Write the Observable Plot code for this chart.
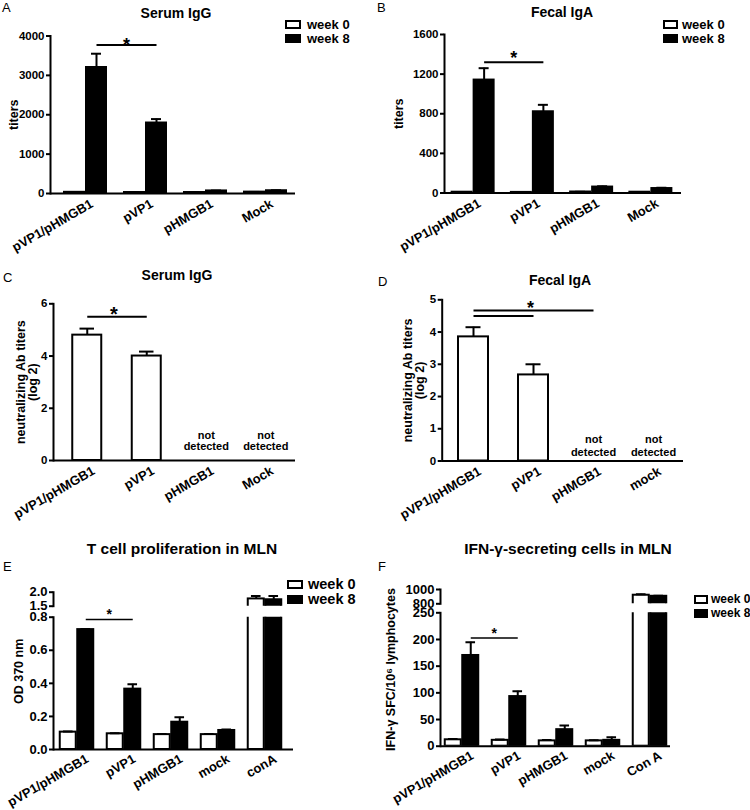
<!DOCTYPE html>
<html><head><meta charset="utf-8">
<script src="https://cdn.jsdelivr.net/npm/d3@7"></script>
<script src="https://cdn.jsdelivr.net/npm/@observablehq/plot@0.6"></script>
<style>
body{margin:0;background:#fff;}
#root{position:relative;width:750px;height:810px;overflow:hidden;background:#fff;font-family:'Liberation Sans',Arial,Helvetica,sans-serif;color:#000;}
.t{position:absolute;white-space:nowrap;line-height:1;}
.sw{position:absolute;box-sizing:border-box;border:2px solid #000;}
svg{position:absolute;}
</style></head><body><div id="root"></div>
<script>
// ---------- data ----------
const groupsAB = ["pVP1/pHMGB1", "pVP1", "pHMGB1", "Mock"];
const serumIgGWeek0 = [30, 25, 25, 35];
const serumIgGWeek0Err = [4, 4, 4, 4];
const serumIgGWeek8 = [3200, 1790, 65, 70];
const serumIgGWeek8Err = [350, 100, 10, 12];
const fecalIgAWeek0 = [8, 6, 10, 8];
const fecalIgAWeek0Err = [2, 2, 2, 2];
const fecalIgAWeek8 = [1140, 820, 60, 45];
const fecalIgAWeek8Err = [120, 70, 8, 8];

const groupsC = ["pVP1/pHMGB1", "pVP1", "pHMGB1", "Mock"];
const groupsD = ["pVP1/pHMGB1", "pVP1", "pHMGB1", "mock"];
const serumNeut = [4.8, 4.0, null, null];
const serumNeutErr = [0.25, 0.17, null, null];
const fecalNeut = [3.85, 2.67, null, null];
const fecalNeutErr = [0.3, 0.33, null, null];

const groupsE = ["pVP1/pHMGB1", "pVP1", "pHMGB1", "mock", "conA"];
const tcellWeek0 = [0.105, 0.095, 0.09, 0.09, 1.76];
const tcellWeek0Err = [0.004, 0.004, 0.003, 0.004, 0.1];
const tcellWeek8 = [0.725, 0.365, 0.165, 0.115, 1.73];
const tcellWeek8Err = [0.004, 0.03, 0.03, 0.006, 0.13];

const groupsF = ["pVP1/pHMGB1", "pVP1", "pHMGB1", "mock", "Con A"];
const ifnWeek0 = [12, 11, 10, 10, 920];
const ifnWeek0Err = [1.5, 1.5, 1.5, 1, 15];
const ifnWeek8 = [170, 93, 31, 11, 905];
const ifnWeek8Err = [25, 10, 8, 6, 8];

const ticksA = [0, 1000, 2000, 3000, 4000];
const ticksB = [0, 400, 800, 1200, 1600];
const ticksC = [0, 2, 4, 6];
const ticksD = [0, 1, 2, 3, 4, 5];
const ticksEUpper = [1.5, 2.0];
const ticksELower = [0, 0.2, 0.4, 0.6, 0.8];
const ticksFUpper = [800, 1000];
const ticksFLower = [0, 50, 100, 150, 200, 250];
const legendLabels = ["week 0", "week 8"];

// ---------- helpers ----------
const FONT = "'Liberation Sans', Arial, Helvetica, sans-serif";
const root = document.getElementById("root");
function ser(groups, vals, errs, fill) {
  return {fill, rows: groups.map((g, i) => ({g, v: vals[i], e: errs[i]})).filter(d => d.v != null)};
}
function build(c) {
  const n = c.groups.length;
  const bw = (c.xr[1] - c.xr[0]) / n;
  const gap = c.gap ?? 2;
  const clip = c.clip ? true : undefined;
  const marks = [];
  const offs = [];
  const single = c.series.length === 1;
  c.series.forEach((s, k) => {
    const off = single ? 0 : (k === 0 ? -1 : 1) * (gap / 2 + c.barW / 2);
    offs.push(off);
    const iL = bw / 2 + off - c.barW / 2, iR = bw / 2 - off - c.barW / 2;
    const capW = c.barW * (c.capRatio ?? 0.5);
    const errRows = s.rows.filter(d => d.e > 0);
    marks.push(Plot.barY(s.rows, {x: "g", y1: 0, y2: "v", fill: s.fill, stroke: "black", strokeWidth: 2, insetLeft: iL, insetRight: iR, clip}));
    marks.push(Plot.ruleX(errRows, {x: "g", y1: "v", y2: d => d.v + d.e, dx: off, strokeWidth: 2, clip}));
    marks.push(Plot.tickY(errRows, {x: "g", y: d => d.v + d.e, insetLeft: bw / 2 + off - capW / 2, insetRight: bw / 2 - off - capW / 2, strokeWidth: 2, clip}));
  });
  const sigOff = offs[offs.length - 1];
  (c.sigs || []).forEach(s => {
    marks.push(Plot.line([{g: c.groups[s.from], v: s.v}, {g: c.groups[s.to], v: s.v}], {x: "g", y: "v", dx: sigOff, strokeWidth: c.sigW ?? 2, strokeLinecap: "butt"}));
  });
  if (c.star) {
    const s = c.star;
    marks.push(Plot.text([s], {x: d => c.groups[d.from], y: "v", text: () => "*", dx: (s.to - s.from) * bw / 2 + sigOff + (s.dx || 0), dy: s.dy || 0, fontSize: s.size, fontWeight: "bold", lineAnchor: "middle", textAnchor: "middle"}));
  }
  if (c.notDetected) {
    marks.push(Plot.text(c.notDetected, {x: d => d, y: 0, text: () => "not\ndetected", lineAnchor: "bottom", textAnchor: "middle", lineHeight: c.ndLH, dy: c.ndDy, fontSize: 11, fontWeight: "bold"}));
  }
  if (c.baseline !== false) marks.push(Plot.ruleY([c.yDomain[0]], {strokeWidth: 2}));
  marks.push(Plot.frame({anchor: "left", strokeWidth: 2}));
  marks.push(Plot.axisY({ticks: c.yTicks, tickFormat: c.fmt || (d => String(d)), tickSize: 4, tickPadding: 2, strokeWidth: 2, fontSize: c.tickFs, fontWeight: "bold", label: null}));
  if (c.cats !== false) {
    marks.push(Plot.text(c.groups, {x: d => d, frameAnchor: "bottom", text: d => d, rotate: -30, textAnchor: "end", lineAnchor: "top", dx: c.catDx, dy: c.catDy, fontSize: c.catFs, fontWeight: "bold"}));
  }
  if (c.yLabel) {
    marks.push(Plot.text([c.yLabel], {frameAnchor: "left", text: d => d, rotate: -90, textAnchor: "middle", lineAnchor: "middle", dx: c.yLabelDx, dy: c.yLabelDy || 0, fontSize: c.yLabelFs, fontWeight: "bold", lineHeight: c.yLabelLH || 1}));
  }
  const svg = Plot.plot({
    width: c.W, height: c.H,
    marginLeft: c.mL, marginRight: c.mR, marginTop: c.mT, marginBottom: c.mB,
    x: {type: "band", domain: c.groups, range: c.xr, padding: 0, round: false, axis: null},
    y: {domain: c.yDomain},
    style: {fontFamily: FONT, background: "transparent", overflow: "visible", color: "black"},
    marks
  });
  svg.style.left = c.left + "px";
  svg.style.top = c.top + "px";
  root.appendChild(svg);
}
function txt(s, x, y, fs, opts = {}) {
  const d = document.createElement("div");
  d.className = "t";
  d.textContent = s;
  d.style.fontSize = fs + "px";
  d.style.fontWeight = opts.weight || "bold";
  d.style.top = (y - 0.49 * fs) + "px";
  d.style.left = x + "px";
  if (opts.center) d.style.transform = "translateX(-50%)";
  root.appendChild(d);
}
function legend(boxX, boxW, boxH, textX, rows, fs) {
  rows.forEach((y, i) => {
    const b = document.createElement("div");
    b.className = "sw";
    b.style.left = boxX + "px"; b.style.top = (y - boxH / 2) + "px";
    b.style.width = boxW + "px"; b.style.height = boxH + "px";
    b.style.background = i === 0 ? "#fff" : "#000";
    root.appendChild(b);
    txt(legendLabels[i], textX, y, fs);
  });
}

// ---------- panels ----------
const common = {tickFs: 11.5, catFs: 13, catDx: 4, catDy: 5, yLabelFs: 12.5};

// A
build({...common, left: 0, top: 0, W: 375, H: 260, mL: 50, mR: 80, mT: 35.5, mB: 67, xr: [55, 295],
  groups: groupsAB, series: [ser(groupsAB, serumIgGWeek0, serumIgGWeek0Err, "white"), ser(groupsAB, serumIgGWeek8, serumIgGWeek8Err, "black")],
  barW: 20, gap: 2, yDomain: [0, 4000], yTicks: ticksA, yLabel: "titers", yLabelDx: -37,
  sigs: [{from: 0, to: 1, v: 3770}], star: {from: 0, to: 1, v: 3770, dy: 0, size: 18}});
// B
build({...common, left: 375, top: 0, W: 375, H: 260, mL: 69, mR: 69, mT: 34, mB: 67.5, xr: [68, 305],
  groups: groupsAB, series: [ser(groupsAB, fecalIgAWeek0, fecalIgAWeek0Err, "white"), ser(groupsAB, fecalIgAWeek8, fecalIgAWeek8Err, "black")],
  barW: 20, gap: 2, yDomain: [0, 1600], yTicks: ticksB, yLabel: "titers", yLabelDx: -46,
  sigs: [{from: 0, to: 1, v: 1320}], star: {from: 0, to: 1, v: 1320, dy: -4, size: 18}});
// C
build({...common, left: 0, top: 260, W: 375, H: 280, mL: 53, mR: 80, mT: 43.3, mB: 80, xr: [57, 295],
  groups: groupsC, series: [ser(groupsC, serumNeut, serumNeutErr, "white")],
  barW: 29, yDomain: [0, 6], yTicks: ticksC, yLabel: "neutralizing Ab titers\n(log 2)", yLabelDx: -26, yLabelLH: 0.9,
  notDetected: groupsC.filter((g, i) => serumNeut[i] == null), ndDy: -11, ndLH: 1.0,
  sigs: [{from: 0, to: 1, v: 5.5}], star: {from: 0, to: 1, v: 5.5, dx: -3, dy: -2, size: 20}});
// D
build({...common, left: 375, top: 260, W: 375, H: 280, mL: 66.7, mR: 67, mT: 39.3, mB: 79.5, xr: [68, 308],
  groups: groupsD, series: [ser(groupsD, fecalNeut, fecalNeutErr, "white")],
  barW: 30, yDomain: [0, 5], yTicks: ticksD, yLabel: "neutralizing Ab titers\n(log 2)", yLabelDx: -27.7, yLabelLH: 0.9,
  notDetected: groupsD.filter((g, i) => fecalNeut[i] == null), ndDy: -5, ndLH: 1.15,
  sigs: [{from: 0, to: 1, v: 4.5}, {from: 0, to: 2, v: 4.67}], star: {from: 0, to: 2, v: 4.67, dx: -3, dy: -2.4, size: 18}});
// E (broken axis: upper + lower segments)
const eSeries = [ser(groupsE, tcellWeek0, tcellWeek0Err, "white"), ser(groupsE, tcellWeek8, tcellWeek8Err, "black")];
const eCommon = {tickFs: 13, catFs: 13, catDx: 8, catDy: 4, yLabelFs: 12.5, left: 0, W: 375, mL: 53, mR: 82, xr: [53, 288],
  groups: groupsE, series: eSeries, barW: 16, gap: 1.5, capRatio: 0.6, clip: true, fmt: d3.format(".1f")};
build({...eCommon, top: 540, H: 71, mT: 51.7, mB: 5.3, yDomain: [1.5, 2.0], yTicks: ticksEUpper, baseline: false, cats: false});
build({...eCommon, top: 611, H: 199, mT: 5.7, mB: 61, yDomain: [0, 0.8], yTicks: ticksELower,
  yLabel: "OD 370 nm", yLabelDx: -35, yLabelDy: -12,
  sigs: [{from: 0, to: 1, v: 0.786}], sigW: 1.5, star: {from: 0, to: 1, v: 0.786, dy: -5, size: 14}});
// F
const fSeries = [ser(groupsF, ifnWeek0, ifnWeek0Err, "white"), ser(groupsF, ifnWeek8, ifnWeek8Err, "black")];
const fCommon = {tickFs: 13, catFs: 13, catDx: 8, catDy: 4, yLabelFs: 12.5, left: 375, W: 375, mL: 65, mR: 80, xr: [63, 298],
  groups: groupsF, series: fSeries, barW: 16, gap: 1.5, capRatio: 0.6, clip: true};
build({...fCommon, top: 540, H: 68, mT: 49, mB: 4.7, yDomain: [800, 1000], yTicks: ticksFUpper, baseline: false, cats: false});
build({...fCommon, top: 608, H: 202, mT: 4.3, mB: 64.3, yDomain: [0, 250], yTicks: ticksFLower,
  yLabel: "IFN-\u03b3 SFC/10\u2076 lymphocytes", yLabelDx: -50, yLabelDy: -10,
  sigs: [{from: 0, to: 1, v: 203}], sigW: 1.5, star: {from: 0, to: 1, v: 203, dy: -4.5, size: 14}});

// ---------- titles, panel letters, legends ----------
txt("A", 2, 7.5, 13, {weight: "normal"});
txt("B", 377, 7.5, 13, {weight: "normal"});
txt("C", 3, 277, 13, {weight: "normal"});
txt("D", 378, 281, 13, {weight: "normal"});
txt("E", 3, 566, 13, {weight: "normal"});
txt("F", 378, 566, 13, {weight: "normal"});
txt("Serum IgG", 176, 12.7, 14, {center: true});
txt("Fecal IgA", 562, 12, 14, {center: true});
txt("Serum IgG", 177, 275, 14, {center: true});
txt("Fecal IgA", 560, 280, 14, {center: true});
txt("T cell proliferation in MLN", 182, 549, 15.5, {center: true});
txt("IFN-\u03b3-secreting cells in MLN", 568, 549, 15.5, {center: true});
legend(285, 16, 9, 307, [24, 38], 13);
legend(663, 15, 9, 682, [24, 38], 13);
legend(287, 16, 9, 308, [584, 599], 14.5);
legend(694, 14, 9, 711, [599, 613], 12);
</script></body></html>
